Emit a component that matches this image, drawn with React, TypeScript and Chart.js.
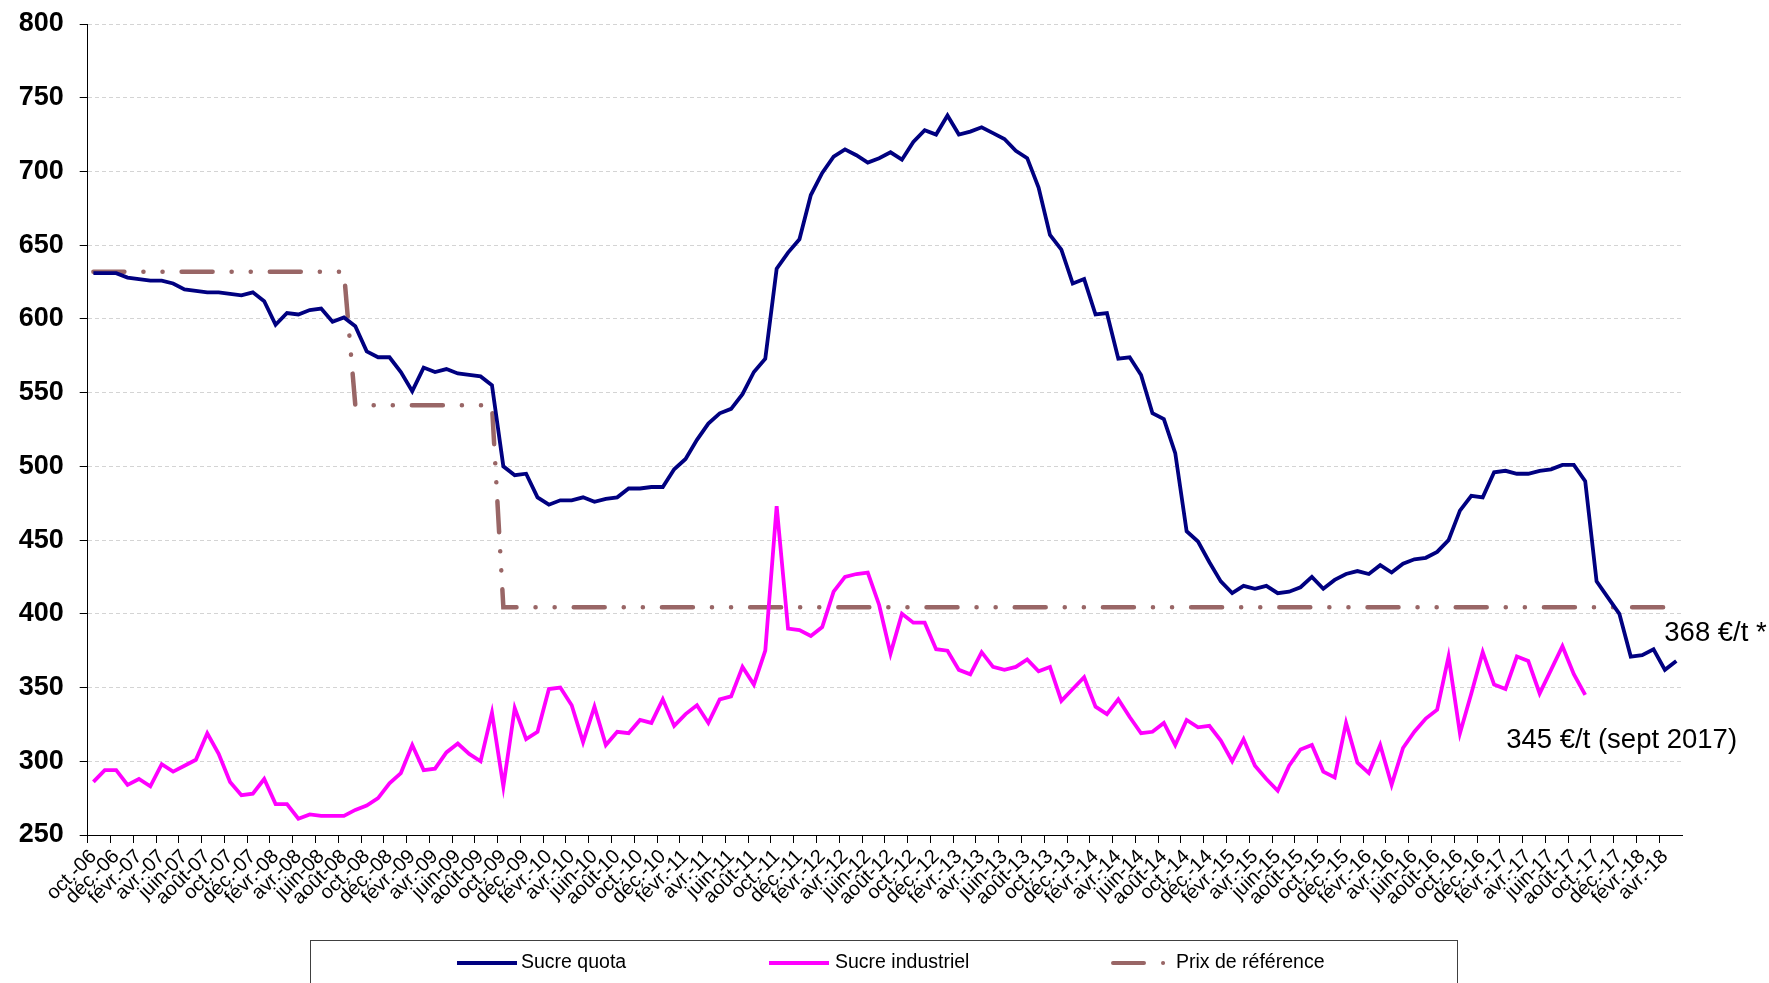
import React, { useEffect, useRef } from "react";
import { Chart, registerables } from "chart.js";

Chart.register(...registerables);

// Month names (French abbreviations) and years used to build category labels
const monthNames = ["janv.", "févr.", "mars", "avr.", "mai", "juin", "juil.", "août", "sept.", "oct.", "nov.", "déc."];
const startMonth = 9; // oct.
const startYear = 2006;
const monthCount = 140; // oct.-06 .. mai-18

const categories: string[] = [];
for (let i = 0; i < monthCount; i++) {
  const m = (startMonth + i) % 12;
  const y = startYear + Math.floor((startMonth + i) / 12);
  categories.push(monthNames[m] + "-" + String(y % 100).padStart(2, "0"));
}

const sucreQuota = [
  631, 631, 631, 628, 627, 626, 626, 624, 620, 619,
  618, 618, 617, 616, 618, 612, 596, 604, 603, 606,
  607, 598, 601, 595, 578, 574, 574, 564, 551, 567,
  564, 566, 563, 562, 561, 555, 500, 494, 495, 479,
  474, 477, 477, 479, 476, 478, 479, 485, 485, 486,
  486, 498, 505, 518, 529, 536, 539, 549, 564, 573,
  634, 645, 654, 684, 699, 710, 715, 711, 706, 709,
  713, 708, 720, 728, 725, 738, 725, 727, 730, 726,
  722, 714, 709, 689, 657, 647, 624, 627, 603, 604,
  573, 574, 562, 536, 532, 509, 456, 449, 435, 422,
  414, 419, 417, 419, 414, 415, 418, 425, 417, 423,
  427, 429, 427, 433, 428, 434, 437, 438, 442, 450,
  470, 480, 479, 496, 497, 495, 495, 497, 498, 501,
  501, 490, 422, 411, 400, 371, 372, 376, 362, 368,
];

const sucreIndustriel = [
  286, 294, 294, 284, 288, 283, 298, 293, 297, 301,
  319, 305, 286, 277, 278, 288, 271, 271, 261, 264,
  263, 263, 263, 267, 270, 275, 285, 292, 311, 294,
  295, 306, 312, 305, 300, 333, 283, 336, 315, 320,
  349, 350, 338, 313, 337, 311, 320, 319, 328, 326,
  342, 324, 332, 338, 326, 342, 344, 364, 352, 375,
  473, 390, 389, 385, 391, 415, 425, 427, 428, 406,
  373, 400, 394, 394, 376, 375, 362, 359, 374, 364,
  362, 364, 369, 361, 364, 341, 349, 357, 337, 332,
  342, 330, 319, 320, 326, 311, 328, 323, 324, 314,
  300, 315, 297, 288, 280, 297, 308, 311, 293, 289,
  326, 299, 292, 311, 284, 309, 320, 329, 335, 371,
  319, 346, 374, 352, 349, 371, 368, 346, 362, 378,
  359, 345,
];

const prixReference = [
  632, 632, 632, 632, 632, 632, 632, 632, 632, 632,
  632, 632, 632, 632, 632, 632, 632, 632, 632, 632,
  632, 632, 632, 541.5, 541.5, 541.5, 541.5, 541.5, 541.5, 541.5,
  541.5, 541.5, 541.5, 541.5, 541.5, 541.5, 404.5, 404.5, 404.5, 404.5,
  404.5, 404.5, 404.5, 404.5, 404.5, 404.5, 404.5, 404.5, 404.5, 404.5,
  404.5, 404.5, 404.5, 404.5, 404.5, 404.5, 404.5, 404.5, 404.5, 404.5,
  404.5, 404.5, 404.5, 404.5, 404.5, 404.5, 404.5, 404.5, 404.5, 404.5,
  404.5, 404.5, 404.5, 404.5, 404.5, 404.5, 404.5, 404.5, 404.5, 404.5,
  404.5, 404.5, 404.5, 404.5, 404.5, 404.5, 404.5, 404.5, 404.5, 404.5,
  404.5, 404.5, 404.5, 404.5, 404.5, 404.5, 404.5, 404.5, 404.5, 404.5,
  404.5, 404.5, 404.5, 404.5, 404.5, 404.5, 404.5, 404.5, 404.5, 404.5,
  404.5, 404.5, 404.5, 404.5, 404.5, 404.5, 404.5, 404.5, 404.5, 404.5,
  404.5, 404.5, 404.5, 404.5, 404.5, 404.5, 404.5, 404.5, 404.5, 404.5,
  404.5, 404.5, 404.5, 404.5, 404.5, 404.5, 404.5, 404.5, 404.5, 404.5,
];

const seriesLabels = ["Sucre quota", "Sucre industriel", "Prix de référence"];
const annotationQuota = "368 €/t *";
const annotationIndustriel = "345 €/t (sept 2017)";

const FONT = "'Liberation Sans', Arial, Helvetica, sans-serif";
const REF_DASH = [31, 19, 0.1, 19, 0.1, 19];

const overlayPlugin = {
  id: "overlay",
  afterDraw(chart: any) {
    const ctx = chart.ctx as CanvasRenderingContext2D;
    const xs = chart.scales.x;
    const ys = chart.scales.y;

    // annotations next to the last points
    ctx.save();
    ctx.fillStyle = "#000";
    ctx.textBaseline = "middle";
    ctx.textAlign = "left";
    ctx.font = `27.5px ${FONT}`;
    const qi = sucreQuota.length - 1;
    ctx.fillText(annotationQuota, xs.getPixelForValue(qi) - 12, ys.getPixelForValue(sucreQuota[qi]) - 28);
    const ii = sucreIndustriel.length - 1;
    ctx.fillText(annotationIndustriel, xs.getPixelForValue(ii) - 79, ys.getPixelForValue(sucreIndustriel[ii]) + 46);
    ctx.restore();

    // legend box
    ctx.save();
    ctx.strokeStyle = "#404040";
    ctx.lineWidth = 1;
    ctx.strokeRect(310.5, 940.5, 1147, 80);
    const items = [
      { sx: 457, tx: 521 },
      { sx: 769, tx: 835 },
      { sx: 1111, tx: 1176 },
    ];
    const ly = 963;
    chart.data.datasets.forEach((ds: any, k: number) => {
      const it = items[k];
      ctx.save();
      ctx.strokeStyle = ds.borderColor;
      ctx.lineWidth = 4;
      ctx.lineCap = ds.borderDash ? "round" : "butt";
      ctx.setLineDash(ds.borderDash || []);
      ctx.beginPath();
      ctx.moveTo(it.sx + (ds.borderDash ? 2 : 0), ly);
      ctx.lineTo(it.sx + 60, ly);
      ctx.stroke();
      ctx.restore();
      ctx.fillStyle = "#000";
      ctx.font = `19.5px ${FONT}`;
      ctx.textBaseline = "middle";
      ctx.textAlign = "left";
      ctx.fillText(ds.label, it.tx, ly);
    });
    ctx.restore();
  },
};

export default function App() {
  const ref = useRef<HTMLCanvasElement | null>(null);

  useEffect(() => {
    if (!ref.current) return;
    Chart.defaults.font.family = FONT;
    const chart = new Chart(ref.current, {
      type: "line",
      data: {
        labels: categories,
        datasets: [
          {
            label: seriesLabels[0],
            data: sucreQuota,
            borderColor: "#000080",
            backgroundColor: "#000080",
            borderWidth: 3.8,
            pointRadius: 0,
            tension: 0,
            fill: false,
          },
          {
            label: seriesLabels[1],
            data: sucreIndustriel,
            borderColor: "#FF00FF",
            backgroundColor: "#FF00FF",
            borderWidth: 3.8,
            pointRadius: 0,
            tension: 0,
            fill: false,
          },
          {
            label: seriesLabels[2],
            data: prixReference,
            borderColor: "#996666",
            backgroundColor: "#996666",
            borderWidth: 4.5,
            borderDash: REF_DASH,
            borderCapStyle: "round",
            pointRadius: 0,
            tension: 0,
            fill: false,
          },
        ],
      },
      options: {
        animation: false,
        responsive: false,
        maintainAspectRatio: false,
        layout: { padding: { left: 0, right: 87, top: 24, bottom: 0 } },
        plugins: {
          legend: { display: false },
          tooltip: { enabled: false },
        },
        scales: {
          x: {
            type: "category",
            offset: true,
            grid: {
              offset: true,
              drawOnChartArea: false,
              drawTicks: true,
              tickLength: 8,
              tickWidth: 1,
              tickColor: (c: any) => (c.index % 2 === 0 ? "#000" : "rgba(0,0,0,0)"),
            },
            border: { display: true, color: "#000", width: 1 },
            ticks: {
              autoSkip: false,
              maxRotation: 45,
              minRotation: 45,
              padding: 2,
              color: "#000",
              font: { size: 20, family: FONT },
              callback: (_v: any, i: number) => (i % 2 === 0 ? categories[i] : ""),
            },
            afterFit: (s: any) => {
              s.height = 148;
              s.paddingLeft = 0;
              s.paddingRight = 0;
            },
          },
          y: {
            min: 250,
            max: 800,
            ticks: {
              stepSize: 50,
              color: "#000",
              padding: 16,
              font: { size: 27, weight: "bold", family: FONT },
            },
            grid: {
              color: "#d4d4d4",
              lineWidth: 1,
              tickLength: 8,
              tickColor: "#000",
            },
            border: { display: true, color: "#000", width: 1, dash: [4, 3] },
            afterFit: (s: any) => {
              s.width = 87.7;
              s.paddingTop = 0;
              s.paddingBottom = 0;
            },
          },
        },
      },
      plugins: [overlayPlugin],
    } as any);
    return () => chart.destroy();
  }, []);

  return (
    <div style={{ position: "absolute", left: 0, top: 0, width: 1769, height: 983, background: "#fff" }}>
      <canvas ref={ref} width={1769} height={983} style={{ display: "block" }} />
    </div>
  );
}
